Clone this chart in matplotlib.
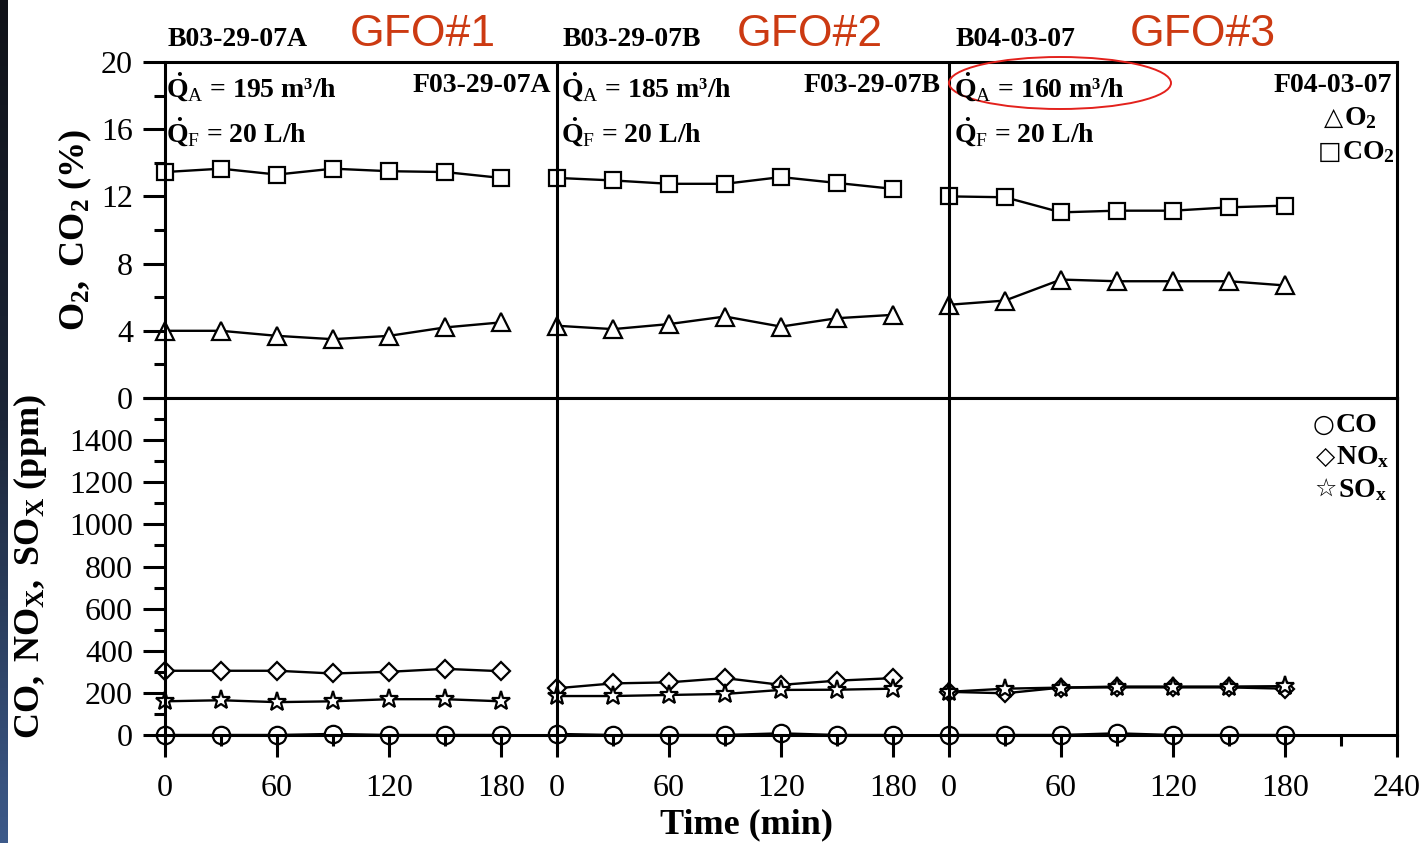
import numpy as np
import matplotlib
matplotlib.use("Agg")
import matplotlib.pyplot as plt
from matplotlib.patches import Ellipse
from matplotlib.ticker import MultipleLocator, FixedLocator
from matplotlib.colors import LinearSegmentedColormap

plt.rcParams['font.family'] = ['Liberation Serif', 'DejaVu Sans']
plt.rcParams['mathtext.fontset'] = 'custom'
plt.rcParams['mathtext.rm'] = 'Liberation Serif'
plt.rcParams['mathtext.bf'] = 'Liberation Serif:bold'
plt.rcParams['mathtext.it'] = 'Liberation Serif:italic'

# ---------------- data ----------------
time_min = [0, 30, 60, 90, 120, 150, 180]
runs = ["GFO#1", "GFO#2", "GFO#3"]
boiler_ids = ["B03-29-07A", "B03-29-07B", "B04-03-07"]
furnace_ids = ["F03-29-07A", "F03-29-07B", "F04-03-07"]
air_flow = ["195", "185", "160"]      # m3/h
fuel_flow = ["20", "20", "20"]        # L/h

o2_gfo1 = [4.0, 4.0, 3.7, 3.5, 3.7, 4.2, 4.5]
o2_gfo2 = [4.3, 4.1, 4.4, 4.85, 4.25, 4.75, 4.95]
o2_gfo3 = [5.55, 5.8, 7.05, 6.95, 6.95, 6.95, 6.7]

co2_gfo1 = [13.45, 13.65, 13.3, 13.65, 13.5, 13.45, 13.1]
co2_gfo2 = [13.1, 12.95, 12.75, 12.75, 13.15, 12.8, 12.45]
co2_gfo3 = [12.0, 11.95, 11.05, 11.15, 11.15, 11.35, 11.45]

co_gfo1 = [0, 0, 0, 5, 0, 0, 0]
co_gfo2 = [5, 0, 0, 0, 8, 0, 0]
co_gfo3 = [0, 0, 0, 8, 0, 0, 0]

nox_gfo1 = [305, 305, 305, 292, 300, 314, 303]
nox_gfo2 = [222, 245, 250, 270, 238, 258, 270]
nox_gfo3 = [205, 198, 225, 226, 226, 226, 220]

sox_gfo1 = [160, 165, 156, 160, 170, 170, 160]
sox_gfo2 = [185, 185, 190, 195, 214, 215, 220]
sox_gfo3 = [205, 220, 225, 230, 230, 230, 232]

o2 = [o2_gfo1, o2_gfo2, o2_gfo3]
co2 = [co2_gfo1, co2_gfo2, co2_gfo3]
co = [co_gfo1, co_gfo2, co_gfo3]
nox = [nox_gfo1, nox_gfo2, nox_gfo3]
sox = [sox_gfo1, sox_gfo2, sox_gfo3]

x_major_labels = ["0", "60", "120", "180", "0", "60", "120", "180", "0", "60", "120", "180", "240"]

# ---------------- layout ----------------
W, H = 1422, 843
seg_offset = [0, 210, 420]
XMAX = 660


def fx(px):
    return px / W


def fy(py):
    return 1 - py / H


fig = plt.figure(figsize=(W / 100, H / 100), dpi=100)
fig.patch.set_facecolor('white')

# dark slide edge on the left
strip = fig.add_axes([0, 0, 8 / W, 1])
grad = np.linspace(0, 1, 256).reshape(-1, 1)
cmap = LinearSegmentedColormap.from_list("edge", ["#101218", "#1c2638", "#3d5a8a"])
strip.imshow(grad, aspect='auto', cmap=cmap)
strip.set_axis_off()

L, R = 165, 1397
ax_top = fig.add_axes([fx(L), fy(398), (R - L) / W, (398 - 62) / H])
ax_bot = fig.add_axes([fx(L), fy(735), (R - L) / W, (735 - 398) / H])

for ax in (ax_top, ax_bot):
    ax.set_xlim(0, XMAX)
    ax.set_axisbelow(False)
    for s in ax.spines.values():
        s.set_linewidth(2.2)
    ax.tick_params(axis='both', which='major', direction='out', length=16, width=2.2,
                   labelsize=23)
    ax.tick_params(axis='both', which='minor', direction='out', length=8, width=2.2)
    ax.tick_params(axis='y', which='both', pad=7)
    for off in seg_offset[1:]:
        ax.axvline(off, color='black', lw=2.2, zorder=3)

ax_top.set_ylim(0, 20)
ax_top.yaxis.set_major_locator(MultipleLocator(4))
ax_top.yaxis.set_minor_locator(MultipleLocator(2))
ax_top.tick_params(axis='x', which='both', bottom=False, labelbottom=False)

ax_bot.set_ylim(0, 1600)
ax_bot.yaxis.set_major_locator(FixedLocator(np.arange(0, 1601, 200)))
ax_bot.set_yticklabels([str(v) if v < 1600 else "" for v in range(0, 1601, 200)])
ax_bot.yaxis.set_minor_locator(MultipleLocator(100))

major_pos = []
minor_pos = []
for off in seg_offset:
    major_pos += [off + t for t in (0, 60, 120, 180)]
    minor_pos += [off + t for t in (30, 90, 150)]
major_pos.append(seg_offset[-1] + 240)
minor_pos.append(seg_offset[-1] + 210)
ax_bot.xaxis.set_major_locator(FixedLocator(major_pos))
ax_bot.set_xticklabels(x_major_labels)
ax_bot.xaxis.set_minor_locator(FixedLocator(minor_pos))
ax_bot.tick_params(axis='x', which='major', pad=12)

t = np.array(time_min)
line_kw = dict(color='black', lw=1.7, mec='black', mew=1.6, mfc='white', clip_on=False)
for k, off in enumerate(seg_offset):
    xs = t + off
    ax_top.plot(xs, co2[k], marker='s', ms=11.5, **line_kw)
    ax_top.plot(xs, o2[k], marker='^', ms=12.5, **line_kw)
    ax_bot.plot(xs, co[k], marker='o', ms=12.5, **line_kw)
    ax_bot.plot(xs, nox[k], marker='D', ms=9.5, **line_kw)
    ax_bot.plot(xs, sox[k], marker='*', ms=14, **line_kw)

# ---------------- annotations ----------------
bold = dict(fontweight='bold', family=['Liberation Serif', 'DejaVu Sans'])
run_label_x = [168, 563, 956]
gfo_x = [350, 737, 1130]
fid_right = [551, 941, 1392]
for k in range(3):
    fig.text(fx(run_label_x[k]), fy(40), boiler_ids[k], fontsize=20, ha='left', va='center', **bold)
    fig.text(fx(gfo_x[k]), fy(34), runs[k], fontsize=32, ha='left', va='center',
             family='Liberation Sans', color='#cc3a12')
    fig.text(fx(run_label_x[k] - 2), fy(87), r'$\mathbf{\dot{Q}}_{\mathrm{A}}$' + f' = {air_flow[k]} m³/h',
             fontsize=20, ha='left', va='center', **bold)
    fig.text(fx(run_label_x[k] - 2), fy(132), r'$\mathbf{\dot{Q}}_{\mathrm{F}}$' + f' = {fuel_flow[k]} L/h',
             fontsize=20, ha='left', va='center', **bold)
    fig.text(fx(fid_right[k]), fy(86), furnace_ids[k], fontsize=20, ha='right', va='center', **bold)

# highlight ellipse
fig.patches.append(Ellipse((fx(1060), fy(83)), 222 / W, 52 / H, transform=fig.transFigure,
                           fill=False, ec='#e3211c', lw=1.4))

# legends (symbol + label)
sym_font = dict(family='DejaVu Sans', fontsize=18, ha='right', va='center')
legend_items = [
    ('\u25b3', r'O$_\mathbf{2}$', 1343, 118),
    ('\u25a1', r'CO$_\mathbf{2}$', 1341, 152),
    ('\u25cb', 'CO', 1335, 425),
    ('\u25c7', r'NO$_\mathbf{x}$', 1335, 457),
    ('\u2606', r'SO$_\mathbf{x}$', 1337, 490),
]
for sym, lab, xp, yp in legend_items:
    fig.text(fx(xp), fy(yp), sym, **sym_font)
    fig.text(fx(xp + 1), fy(yp), lab, fontsize=20, ha='left', va='center', **bold)

# axis labels
fig.text(fx(75), fy(230), r'$\mathbf{O_2,\ CO_2\ (\%)}$', rotation=90, fontsize=26,
         ha='center', va='center')
fig.text(fx(30), fy(567), r'$\mathbf{CO,\ NO_X,\ SO_X\ (ppm)}$', rotation=90, fontsize=26,
         ha='center', va='center')
fig.text(fx(747), fy(825), 'Time (min)', fontsize=26, ha='center', va='center', **bold)

fig.savefig('out.png', dpi=100)
